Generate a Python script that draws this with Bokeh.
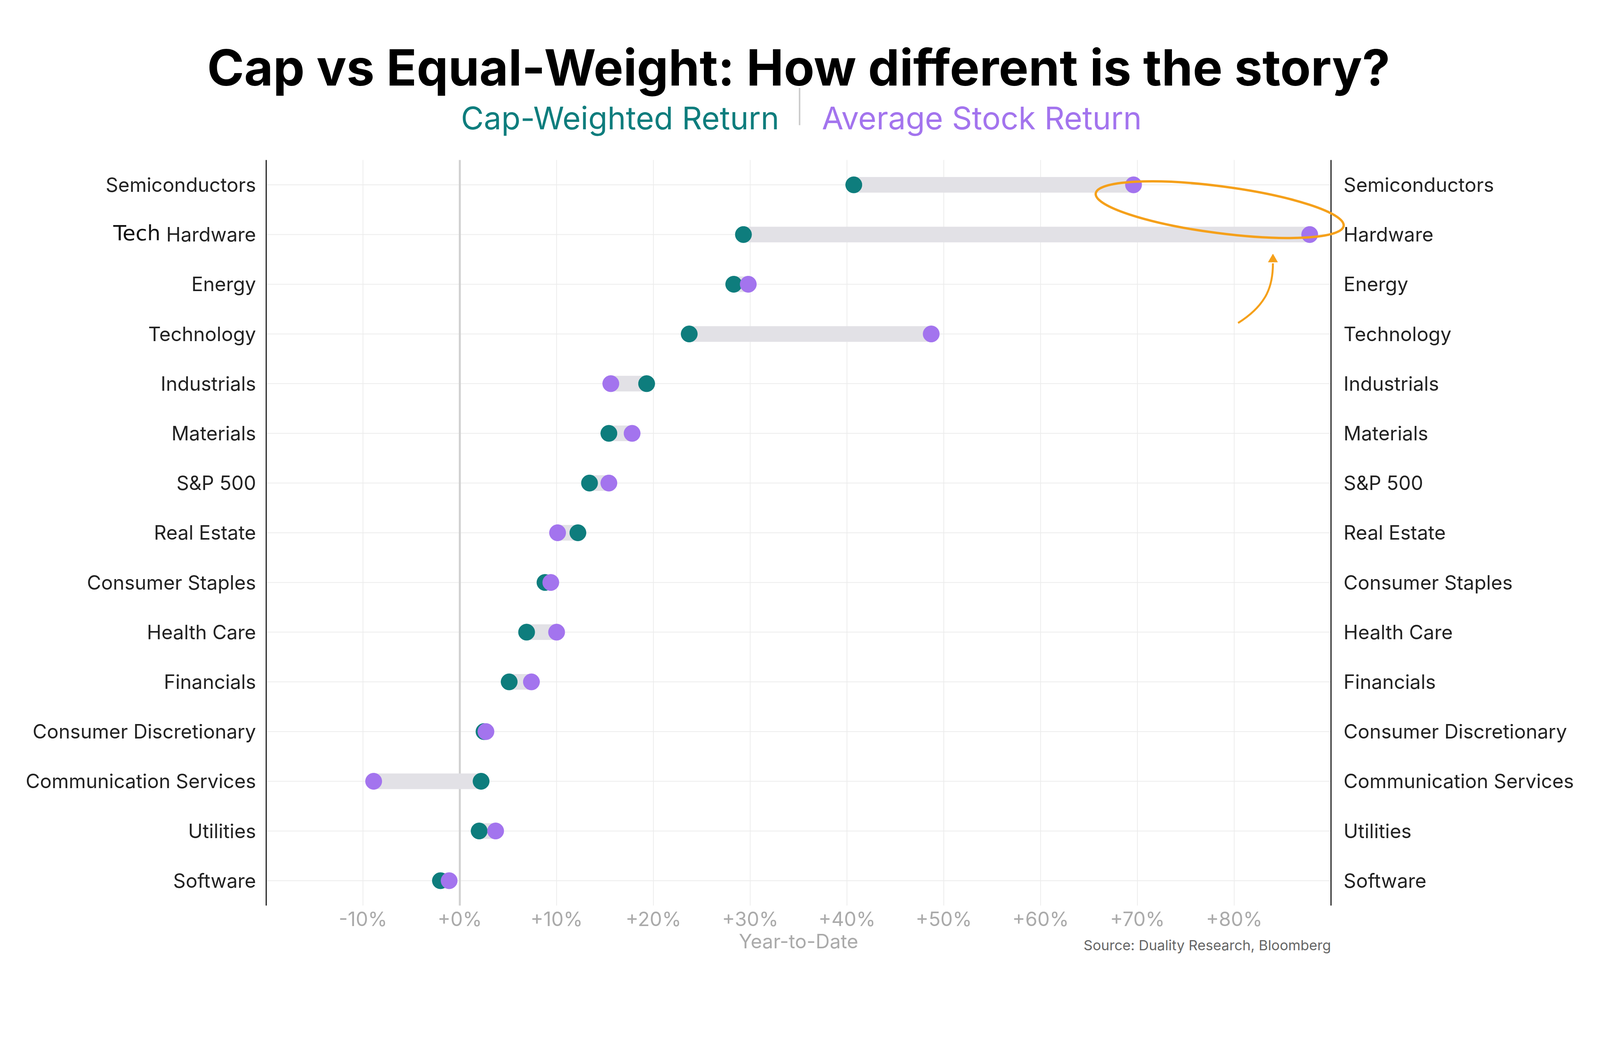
from bokeh.plotting import figure
from bokeh.models import Range1d
from bokeh.core.properties import value
from bokeh.embed import file_html
from bokeh.resources import INLINE

cats = ["Semiconductors", "Hardware", "Energy", "Technology", "Industrials", "Materials",
        "S&P 500", "Real Estate", "Consumer Staples", "Health Care", "Financials",
        "Consumer Discretionary", "Communication Services", "Utilities", "Software"]
cap = [40.7, 29.3, 28.3, 23.7, 19.3, 15.4, 13.4, 12.2, 8.8, 6.9, 5.1, 2.5, 2.2, 2.0, -2.0]
avg = [69.6, 87.8, 29.8, 48.7, 15.6, 17.8, 15.4, 10.1, 9.4, 10.0, 7.4, 2.7, -8.9, 3.7, -1.1]
ticks = [-10, 0, 10, 20, 30, 40, 50, 60, 70, 80]
tick_labels = ["-10%", "+0%", "+10%", "+20%", "+30%", "+40%", "+50%", "+60%", "+70%", "+80%"]

TEAL = "#0e7d7d"
PURPLE = "#a374ee"
ORANGE = "#f5a01a"
FONT = "Inter"
W, H = 4072, 2470
n = len(cats)
ys = [n - 1 - i for i in range(n)]
XMIN, XMAX = -20, 90
YBOT, YTOP = -0.5, n - 0.5

p = figure(width=W, height=H, output_backend="svg", toolbar_location=None,
           x_range=Range1d(-47.48, 116.84), y_range=Range1d(-1.703, 17.715),
           min_border=0)
p.outline_line_color = None
p.axis.visible = False
p.grid.visible = False

# gridlines
p.segment(x0=XMIN, x1=XMAX, y0=ys, y1=ys, line_color="#ececec", line_width=2)
p.segment(x0=ticks, x1=ticks, y0=YBOT, y1=YTOP, line_color="#ececec", line_width=2)
p.segment(x0=[0], x1=[0], y0=YBOT, y1=YTOP, line_color="#d0d0d0", line_width=5)
p.segment(x0=[XMIN, XMAX], x1=[XMIN, XMAX], y0=YBOT, y1=YTOP, line_color="#222222", line_width=3)

# dumbbells
p.segment(x0=cap, x1=avg, y0=ys, y1=ys, line_color="#e2e1e6", line_width=40)
p.scatter(x=cap, y=ys, size=42, color=TEAL)
p.scatter(x=avg, y=ys, size=42, color=PURPLE)

# axis labels
p.text(x=XMIN - 1.05, y=ys, text=cats, text_align="right", text_baseline="middle",
       text_font=value(FONT), text_font_size="50px", text_color="#222222")
p.text(x=XMAX + 1.3, y=ys, text=cats, text_align="left", text_baseline="middle",
       text_font=value(FONT), text_font_size="50px", text_color="#222222")
p.text(x=ticks, y=-0.77, text=tick_labels, text_align="center", text_baseline="middle",
       text_font=value(FONT), text_font_size="50px", text_color="#aaaaaa")
p.text(x=[35], y=[-1.22], text=["Year-to-Date"], text_align="center", text_baseline="middle",
       text_font=value(FONT), text_font_size="50px", text_color="#aaaaaa")
p.text(x=[XMAX], y=[-1.3], text=["Source: Duality Research, Bloomberg"], text_align="right",
       text_baseline="middle", text_font=value(FONT), text_font_size="36px", text_color="#666666")
p.text(x=[-35.8], y=[n - 2 + 0.03], text=["Tech"], text_align="left", text_baseline="middle",
       text_font=value("DejaVu Sans"), text_font_size="54px", text_color="#111111")

# title
p.text(x=[35], y=[16.36], text=["Cap vs Equal-Weight: How different is the story?"],
       text_align="center", text_baseline="alphabetic", text_font=value(FONT),
       text_font_style="bold", text_font_size="128px", text_color="#000000")
p.text(x=[33.0], y=[15.35], text=["Cap-Weighted Return"], text_align="right",
       text_baseline="alphabetic", text_font=value(FONT), text_font_size="80px", text_color=TEAL)
p.text(x=[37.4], y=[15.35], text=["Average Stock Return"], text_align="left",
       text_baseline="alphabetic", text_font=value(FONT), text_font_size="80px", text_color=PURPLE)
p.segment(x0=[35.1], x1=[35.1], y0=[15.2], y1=[15.95], line_color="#cccccc", line_width=4)

# annotation ellipse and arrow
p.ellipse(x=[78.5], y=[n - 1.5], width=640, height=120, width_units="screen",
          height_units="screen", angle=-0.13, fill_color=None, line_color=ORANGE, line_width=6)
p.bezier(x0=[80.4], y0=[n - 4 + 0.22], x1=[84.0], y1=[n - 3 + 0.42],
         cx0=[83.5], cy0=[n - 4 + 0.6], cx1=[84.0], cy1=[n - 3 + 0.0],
         line_color=ORANGE, line_width=5)
p.scatter(x=[84.0], y=[n - 3 + 0.5], marker="triangle", size=24, color=ORANGE)

open("out.html", "w").write(file_html(p, INLINE))
